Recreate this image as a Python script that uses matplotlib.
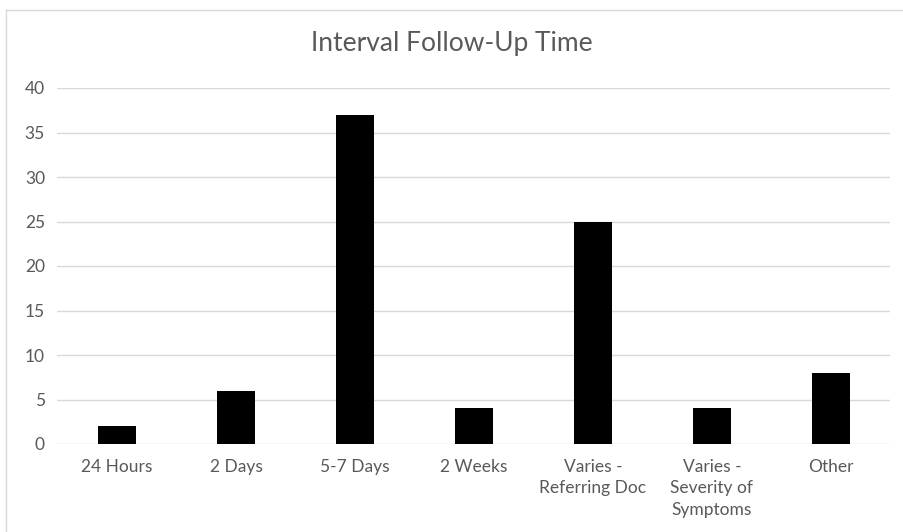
import matplotlib.pyplot as plt
from matplotlib.lines import Line2D

categories = ["24 Hours", "2 Days", "5-7 Days", "2 Weeks",
              "Varies -\nReferring Doc", "Varies -\nSeverity of\nSymptoms", "Other"]
counts = [2, 6, 37, 4, 25, 4, 8]
y_ticks = [0, 5, 10, 15, 20, 25, 30, 35, 40]

TEXT = "#595959"
GRID = "#d9d9d9"

plt.rcParams['font.family'] = ['Lato', 'DejaVu Sans']

fig = plt.figure(figsize=(9.04, 5.32), dpi=100)
ax = fig.add_axes([57.5 / 904, (532 - 444) / 532, 833 / 904, 356 / 532])

x = list(range(len(categories)))
ax.bar(x, counts, width=0.32, color="black", zorder=3)

ax.set_xlim(-0.5, len(categories) - 0.5)
ax.set_ylim(0, 40)
ax.set_yticks(y_ticks)
ax.set_xticks(x)
ax.set_xticklabels(categories, linespacing=1.4)
ax.tick_params(axis='both', length=0, labelsize=12.5, colors=TEXT)
ax.tick_params(axis='x', pad=11)
ax.tick_params(axis='y', pad=9)
ax.grid(axis='y', color=GRID, linewidth=1, zorder=0)
for s in ax.spines.values():
    s.set_visible(False)

fig.text(0.5, 1 - 44 / 532, "Interval Follow-Up Time", ha='center', va='center',
         fontsize=19, color=TEXT)

# chart area border
fig.add_artist(Line2D([6 / 904, 1], [1 - 10 / 532, 1 - 10 / 532], color=GRID, lw=1))
fig.add_artist(Line2D([6 / 904, 6 / 904], [0, 1 - 10 / 532], color=GRID, lw=1))

fig.savefig("out.png", dpi=100)
